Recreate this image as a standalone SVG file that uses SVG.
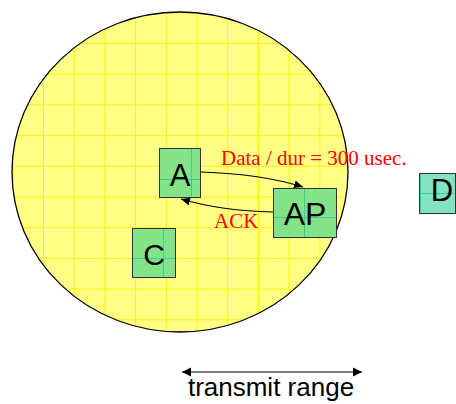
<svg xmlns="http://www.w3.org/2000/svg" width="456" height="404" viewBox="0 0 456 404">
  <defs>
    <pattern id="rangeGrid" patternUnits="userSpaceOnUse" x="12.3" y="12.3" width="30.7" height="30.7">
      <rect width="30.7" height="30.7" fill="#FFFF85"/>
      <path d="M0.5,0 V30.7 M0,0.5 H30.7" stroke="#FFF200" stroke-width="1" fill="none"/>
    </pattern>
    <marker id="head" markerWidth="10" markerHeight="8" refX="9" refY="4" orient="auto" markerUnits="userSpaceOnUse">
      <path d="M0,0 L9,4 L0,8 Z" fill="#000"/>
    </marker>
    <marker id="tip" markerWidth="10" markerHeight="10" refX="9" refY="5" orient="auto-start-reverse" markerUnits="userSpaceOnUse">
      <path d="M0,0.5 L9,5 L0,9.5 Z" fill="#000"/>
    </marker>
    <style>
      .station { fill: #82E486; stroke: #333; stroke-width: 1; }
      .far { fill: #82E2C2; stroke: #333; stroke-width: 1; }
      .inner { stroke: #3CCB9A; stroke-width: 1; fill: none; }
      .name { font-family: "Liberation Sans", Arial, sans-serif; fill: #000; text-anchor: middle; }
      .msg { font-family: "Liberation Serif", "Times New Roman", serif; font-size: 21px; fill: #FF0000; }
      .link { fill: none; stroke: #000; stroke-width: 1.2; }
    </style>
  </defs>

  <!-- coverage area of the access point -->
  <g id="range">
    <ellipse cx="180" cy="172" rx="168" ry="160" fill="url(#rangeGrid)" stroke="#000" stroke-width="1.3"/>
  </g>

  <g id="connectors">
    <path class="link" d="M201,172 Q262,174 303,187" marker-end="url(#head)"/>
    <path class="link" d="M273,212 Q222,211 181,199" marker-end="url(#head)"/>
    <path class="link" d="M182,372 H362" stroke-width="2.2" marker-start="url(#tip)" marker-end="url(#tip)"/>
  </g>

  <g id="node-A">
    <rect class="station" x="159.5" y="148.5" width="41" height="49"/>
    <path class="inner" d="M191.5,149 V197 M160,179.5 H200"/>
    <text class="name" x="180" y="186" font-size="31">A</text>
  </g>

  <g id="node-AP">
    <rect class="station" x="273.5" y="188.5" width="63" height="49"/>
    <path class="inner" d="M304.5,189 V237 M274,217.5 H336"/>
    <text class="name" x="305" y="225" font-size="32">AP</text>
  </g>

  <g id="node-C">
    <rect class="station" x="132.5" y="228.5" width="43" height="49"/>
    <path class="inner" d="M163.5,229 V277 M133,258.5 H175"/>
    <text class="name" x="154" y="265" font-size="30">C</text>
  </g>

  <g id="node-D">
    <rect class="far" x="419.5" y="173.5" width="36" height="40"/>
    <path class="inner" d="M420.5,174 V213 M420,193.5 H455"/>
    <text class="name" x="442" y="201" font-size="31">D</text>
  </g>

  <g id="labels">
    <text class="msg" x="221" y="165">Data / dur = 300 usec.</text>
    <text class="msg" x="214" y="228">ACK</text>
    <text x="271" y="396" font-family="'Liberation Sans', Arial, sans-serif" font-size="26" text-anchor="middle" fill="#000">transmit range</text>
  </g>
</svg>
